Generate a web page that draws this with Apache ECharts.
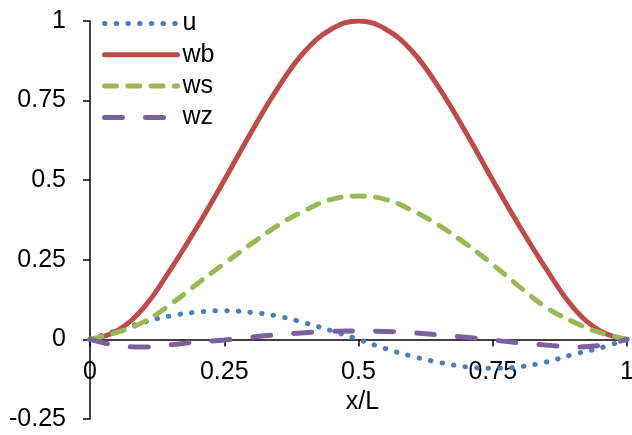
<!DOCTYPE html>
<html>
<head>
<meta charset="utf-8">
<script src="https://cdn.jsdelivr.net/npm/echarts@6/dist/echarts.min.js"></script>
<style>
  html, body { margin: 0; padding: 0; background: #fff; }
  #chart { width: 632px; height: 435px; }
</style>
</head>
<body>
<div id="chart"></div>
<script>
// Normalised position along the member
const xPos = [0, 0.05, 0.1, 0.15, 0.2, 0.25, 0.3, 0.35, 0.4, 0.45, 0.5,
              0.55, 0.6, 0.65, 0.7, 0.75, 0.8, 0.85, 0.9, 0.95, 1];

// Displacement components
const u  = [0, 0.028, 0.054, 0.074, 0.086, 0.090, 0.085, 0.073, 0.052, 0.027, 0,
            -0.029, -0.053, -0.072, -0.086, -0.091, -0.086, -0.071, -0.047, -0.027, 0];
const wb = [0, 0.027, 0.10, 0.22, 0.355, 0.50, 0.65, 0.79, 0.905, 0.975, 1.0,
            0.975, 0.905, 0.79, 0.65, 0.50, 0.355, 0.22, 0.10, 0.027, 0];
const ws = [0, 0.022, 0.055, 0.11, 0.175, 0.238, 0.30, 0.358, 0.405, 0.44, 0.45,
            0.44, 0.405, 0.358, 0.30, 0.235, 0.165, 0.10, 0.055, 0.021, 0];
const wz = [0, -0.019, -0.024, -0.017, -0.008, -0.002, 0.007, 0.015, 0.021, 0.025, 0.026,
            0.025, 0.021, 0.014, 0.007, -0.002, -0.011, -0.018, -0.024, -0.019, 0];

const seriesNames = ['u', 'wb', 'ws', 'wz'];
const seriesColors = ['#4A7EBB', '#BE4B48', '#98B954', '#7D60A0'];

// Axis ranges and tick steps
const xMin = 0, xMax = 1, xStep = 0.25;
const yMin = -0.25, yMax = 1, yStep = 0.25;

const pairs = arr => xPos.map((x, i) => [x, arr[i]]);

const lineStyles = [
  { width: 5, type: [0.5, 11.2], cap: 'round' },
  { width: 5, type: 'solid', cap: 'round' },
  { width: 5, type: [12, 11.3], cap: 'round' },
  { width: 5, type: [18, 23], cap: 'round' }
];

const font = 'Liberation Sans, Arial, sans-serif';
const fs = 25;

const W = 632, H = 435;
const grid = { left: 90, right: 5, top: 21, bottom: 16 };
// Lift the horizontal axis from the bottom of the plot up to the y = 0 line
const plotH = H - grid.top - grid.bottom;
const xAxisOffset = -plotH * (0 - yMin) / (yMax - yMin);

const chart = echarts.init(document.getElementById('chart'), null, { renderer: 'canvas' });
chart.setOption({
  animation: false,
  backgroundColor: '#fff',
  grid: Object.assign({ outerBoundsMode: 'none', containLabel: false }, grid),
  legend: {
    orient: 'vertical',
    left: 102,
    top: 11,
    padding: 0,
    itemWidth: 73,
    itemHeight: 14,
    itemGap: 6.3,
    data: seriesNames,
    itemStyle: { opacity: 0 },
    lineStyle: { width: 5, cap: 'round' },
    textStyle: { fontFamily: font, fontSize: fs, color: '#000', lineHeight: 25 }
  },
  xAxis: {
    type: 'value',
    min: xMin, max: xMax, interval: xStep,
    offset: xAxisOffset,
    name: 'x/L',
    nameLocation: 'middle',
    nameGap: 45,
    nameTextStyle: { fontFamily: font, fontSize: fs, color: '#000', padding: [0, 0, 0, 8] },
    axisLine: { onZero: false, lineStyle: { color: '#000', width: 1.5 } },
    axisTick: { show: true, length: 7, lineStyle: { color: '#000', width: 1.5 } },
    axisLabel: { fontFamily: font, fontSize: fs, color: '#000', margin: 20, hideOverlap: false },
    splitLine: { show: false }
  },
  yAxis: {
    type: 'value',
    min: yMin, max: yMax, interval: yStep,
    axisLine: { show: true, lineStyle: { color: '#000', width: 1.5 } },
    axisTick: { show: true, length: 7, lineStyle: { color: '#000', width: 1.5 } },
    axisLabel: { fontFamily: font, fontSize: fs, color: '#000', margin: 24 },
    splitLine: { show: false }
  },
  series: [u, wb, ws, wz].map((arr, i) => ({
    name: seriesNames[i],
    type: 'line',
    data: pairs(arr),
    smooth: 0.4,
    symbol: 'none',
    showSymbol: false,
    color: seriesColors[i],
    lineStyle: Object.assign({ color: seriesColors[i] }, lineStyles[i])
  }))
});
</script>
</body>
</html>
